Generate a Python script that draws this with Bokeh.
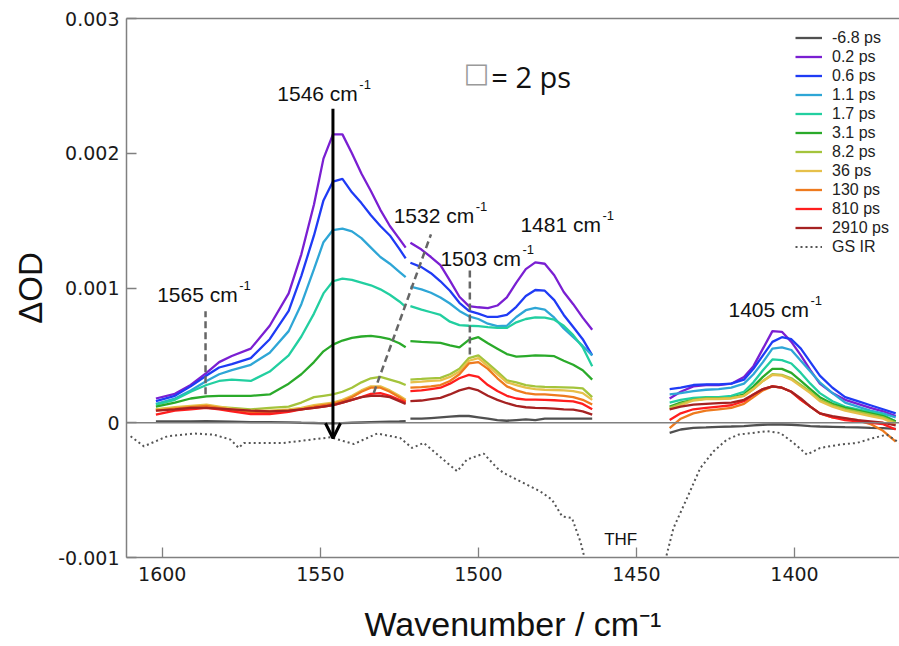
import numpy as np
from bokeh.plotting import figure
from bokeh.models import (Range1d, FixedTicker, CustomJSTickFormatter, Span, Arrow,
                          OpenHead, Label, Legend, LegendItem, LinearAxis)
from bokeh.embed import file_html
from bokeh.resources import INLINE

# Probe windows (wavenumber, cm^-1); the gaps between them are not measured
wn_a = [1602, 1596, 1591, 1586, 1582, 1578, 1572, 1566, 1560, 1556, 1552,
        1549, 1546, 1543, 1540, 1537, 1534, 1531, 1528, 1525, 1523]
wn_b = [1521.5, 1518, 1515, 1512, 1509, 1506, 1503, 1500, 1497, 1494,
        1491, 1488, 1485, 1482, 1479, 1476, 1473, 1470, 1467, 1464]
wn_c = [1439.5, 1436, 1432, 1428, 1424, 1420, 1416, 1413, 1410, 1407, 1404,
        1401, 1398, 1395, 1392, 1388, 1384, 1380, 1376, 1372, 1368]

delays = ["-6.8 ps", "0.2 ps", "0.6 ps", "1.1 ps", "1.7 ps", "3.1 ps",
          "8.2 ps", "36 ps", "130 ps", "810 ps", "2910 ps"]
colors = ["#505050", "#7A1FD2", "#1F3BF5", "#2EA6D6", "#22CFA0", "#2AAA2A",
          "#A4C43C", "#E6C04A", "#EE7A1E", "#FF1E1E", "#A52222"]

# Transient absorbance in mOD (1e-3 OD) for each window
d_a = [
    [0.01, 0.01, 0.01, 0.012, 0.01, 0.008, 0.005, 0.005, 0.003, 0.0, -0.002,
     -0.004, -0.005, -0.003, 0.0, 0.002, 0.004, 0.006, 0.008, 0.01, 0.012],
    [0.18, 0.215, 0.28, 0.37, 0.45, 0.495, 0.55, 0.72, 0.96, 1.25, 1.62,
     1.96, 2.14, 2.14, 2.0, 1.85, 1.72, 1.58, 1.46, 1.365, 1.30],
    [0.16, 0.20, 0.27, 0.35, 0.41, 0.435, 0.48, 0.62, 0.83, 1.09, 1.39,
     1.65, 1.79, 1.81, 1.71, 1.63, 1.54, 1.46, 1.39, 1.29, 1.22],
    [0.14, 0.18, 0.24, 0.31, 0.36, 0.39, 0.43, 0.52, 0.68, 0.88, 1.14,
     1.34, 1.43, 1.44, 1.42, 1.37, 1.30, 1.23, 1.18, 1.12, 1.08],
    [0.135, 0.17, 0.23, 0.28, 0.31, 0.32, 0.31, 0.38, 0.50, 0.64, 0.81,
     0.96, 1.05, 1.07, 1.06, 1.04, 1.02, 0.99, 0.95, 0.90, 0.86],
    [0.12, 0.15, 0.18, 0.195, 0.20, 0.20, 0.20, 0.21, 0.29, 0.36, 0.45,
     0.53, 0.58, 0.61, 0.63, 0.64, 0.645, 0.635, 0.62, 0.59, 0.56],
    [0.10, 0.11, 0.12, 0.12, 0.115, 0.11, 0.10, 0.11, 0.12, 0.15, 0.19,
     0.20, 0.21, 0.23, 0.26, 0.30, 0.33, 0.34, 0.32, 0.30, 0.28],
    [0.10, 0.115, 0.125, 0.135, 0.12, 0.105, 0.09, 0.09, 0.10, 0.11, 0.13,
     0.14, 0.15, 0.17, 0.20, 0.24, 0.27, 0.27, 0.24, 0.20, 0.17],
    [0.09, 0.105, 0.115, 0.125, 0.11, 0.095, 0.08, 0.08, 0.09, 0.10, 0.12,
     0.13, 0.14, 0.16, 0.19, 0.23, 0.26, 0.26, 0.23, 0.19, 0.16],
    [0.06, 0.09, 0.10, 0.11, 0.10, 0.085, 0.065, 0.065, 0.08, 0.10, 0.11,
     0.12, 0.13, 0.15, 0.17, 0.19, 0.215, 0.22, 0.20, 0.17, 0.15],
    [0.09, 0.10, 0.11, 0.11, 0.105, 0.10, 0.09, 0.085, 0.09, 0.10, 0.11,
     0.12, 0.13, 0.15, 0.17, 0.19, 0.20, 0.20, 0.19, 0.16, 0.14],
]
d_b = [
    [0.03, 0.03, 0.035, 0.04, 0.045, 0.05, 0.05, 0.04, 0.03, 0.02,
     0.015, 0.02, 0.025, 0.02, 0.03, 0.03, 0.03, 0.03, 0.03, 0.03],
    [1.336, 1.285, 1.23, 1.17, 1.055, 0.935, 0.866, 0.857, 0.85, 0.87,
     0.93, 1.04, 1.14, 1.19, 1.18, 1.095, 0.97, 0.88, 0.78, 0.69],
    [1.187, 1.155, 1.11, 1.05, 0.98, 0.89, 0.83, 0.81, 0.785, 0.785,
     0.80, 0.86, 0.94, 0.985, 0.98, 0.91, 0.80, 0.71, 0.62, 0.50],
    [1.01, 0.99, 0.965, 0.93, 0.885, 0.83, 0.79, 0.77, 0.735, 0.717,
     0.72, 0.785, 0.835, 0.852, 0.84, 0.78, 0.70, 0.635, 0.57, 0.50],
    [0.866, 0.84, 0.82, 0.80, 0.75, 0.725, 0.72, 0.717, 0.71, 0.704,
     0.704, 0.745, 0.77, 0.782, 0.78, 0.765, 0.72, 0.65, 0.56, 0.42],
    [0.606, 0.60, 0.597, 0.593, 0.575, 0.56, 0.615, 0.635, 0.59, 0.55,
     0.51, 0.49, 0.495, 0.50, 0.498, 0.494, 0.46, 0.43, 0.39, 0.32],
    [0.32, 0.325, 0.33, 0.333, 0.36, 0.40, 0.48, 0.50, 0.44, 0.38,
     0.315, 0.30, 0.28, 0.27, 0.266, 0.264, 0.262, 0.26, 0.255, 0.19],
    [0.30, 0.305, 0.31, 0.315, 0.34, 0.38, 0.46, 0.48, 0.42, 0.36,
     0.30, 0.28, 0.26, 0.25, 0.245, 0.243, 0.24, 0.235, 0.22, 0.17],
    [0.26, 0.265, 0.27, 0.28, 0.31, 0.36, 0.44, 0.45, 0.40, 0.33,
     0.27, 0.24, 0.22, 0.21, 0.21, 0.205, 0.20, 0.19, 0.17, 0.135],
    [0.234, 0.24, 0.25, 0.26, 0.29, 0.33, 0.355, 0.34, 0.28, 0.235,
     0.20, 0.18, 0.172, 0.172, 0.17, 0.167, 0.163, 0.158, 0.14, 0.10],
    [0.16, 0.165, 0.175, 0.185, 0.21, 0.24, 0.258, 0.24, 0.20, 0.17,
     0.145, 0.125, 0.115, 0.11, 0.108, 0.105, 0.10, 0.097, 0.085, 0.06],
]
d_c = [
    [-0.075, -0.05, -0.038, -0.035, -0.03, -0.028, -0.025, -0.02, -0.015, -0.012,
     -0.013, -0.015, -0.02, -0.025, -0.028, -0.03, -0.033, -0.035, -0.038, -0.04, -0.045],
    [0.18, 0.23, 0.27, 0.28, 0.28, 0.29, 0.34, 0.42, 0.55, 0.68, 0.675,
     0.60, 0.50, 0.39, 0.29, 0.22, 0.17, 0.14, 0.11, 0.085, 0.05],
    [0.25, 0.26, 0.28, 0.285, 0.285, 0.29, 0.32, 0.40, 0.50, 0.60, 0.635,
     0.62, 0.55, 0.45, 0.35, 0.26, 0.19, 0.16, 0.13, 0.10, 0.07],
    [0.21, 0.22, 0.235, 0.245, 0.25, 0.26, 0.29, 0.36, 0.45, 0.55, 0.56,
     0.54, 0.46, 0.38, 0.30, 0.22, 0.15, 0.12, 0.09, 0.07, 0.04],
    [0.15, 0.17, 0.185, 0.19, 0.19, 0.20, 0.23, 0.30, 0.39, 0.47, 0.465,
     0.44, 0.37, 0.29, 0.22, 0.16, 0.12, 0.10, 0.08, 0.06, 0.01],
    [0.12, 0.15, 0.17, 0.18, 0.18, 0.185, 0.21, 0.27, 0.34, 0.40, 0.40,
     0.37, 0.31, 0.25, 0.19, 0.14, 0.11, 0.09, 0.07, 0.05, 0.01],
    [0.11, 0.14, 0.17, 0.18, 0.18, 0.185, 0.20, 0.25, 0.31, 0.36, 0.355,
     0.33, 0.28, 0.23, 0.17, 0.13, 0.10, 0.08, 0.06, 0.04, 0.0],
    [0.10, 0.13, 0.165, 0.175, 0.175, 0.18, 0.20, 0.25, 0.31, 0.355, 0.35,
     0.32, 0.27, 0.22, 0.16, 0.12, 0.09, 0.07, 0.05, 0.03, -0.01],
    [-0.04, 0.03, 0.07, 0.09, 0.10, 0.11, 0.14, 0.19, 0.24, 0.27, 0.26,
     0.23, 0.17, 0.12, 0.07, 0.04, 0.03, 0.02, -0.01, -0.06, -0.14],
    [0.02, 0.07, 0.10, 0.11, 0.12, 0.13, 0.16, 0.21, 0.25, 0.27, 0.26,
     0.23, 0.17, 0.12, 0.07, 0.04, 0.02, 0.01, 0.0, -0.01, -0.05],
    [0.10, 0.12, 0.135, 0.14, 0.145, 0.15, 0.17, 0.21, 0.25, 0.27, 0.26,
     0.23, 0.18, 0.12, 0.07, 0.05, 0.035, 0.02, 0.01, 0.0, -0.02],
]

# Ground-state IR spectrum (scaled, negative), mOD
gs_wn = [1610, 1605.8, 1598.4, 1590, 1583.7, 1578.4, 1575.8, 1574.2, 1561.6,
         1546.8, 1539.4, 1532, 1524.7, 1521, 1517.3, 1506.7, 1503.6, 1498.3,
         1494.1, 1492, 1486.7, 1480.4, 1476.7, 1473.5, 1470.4, 1467.7, 1466.5,
         1463, 1455, 1446, 1440.6, 1438.3, 1434, 1429.8, 1425.6, 1421.4,
         1417.7, 1408.7, 1404.5, 1400.3, 1396.1, 1391.9, 1385.6, 1380.3,
         1375, 1370.8, 1367.6, 1366]
gs_od = [-0.10, -0.175, -0.10, -0.08, -0.088, -0.125, -0.187, -0.15, -0.15,
         -0.108, -0.158, -0.08, -0.113, -0.187, -0.15, -0.36, -0.273, -0.229,
         -0.336, -0.373, -0.435, -0.51, -0.571, -0.695, -0.707, -0.884, -0.995,
         -1.35, -2.0, -1.6, -0.995, -0.782, -0.559, -0.336, -0.212, -0.125,
         -0.088, -0.063, -0.076, -0.15, -0.236, -0.187, -0.162, -0.15,
         -0.113, -0.088, -0.137, -0.16]

MOD = 1e-3


def joined(a, b, c):
    gap = [np.nan]
    return np.concatenate([np.asarray(a, float), gap, np.asarray(b, float),
                           gap, np.asarray(c, float)])


x_all = joined(wn_a, wn_b, wn_c)

p = figure(width=899, height=646, output_backend="svg", toolbar_location=None,
           x_range=Range1d(1611.3, 1366.8), y_range=Range1d(-0.001, 0.003),
           min_border_left=126, min_border_right=0, min_border_top=18,
           min_border_bottom=89)
p.outline_line_color = None
p.xgrid.grid_line_color = None
p.ygrid.grid_line_color = None

ANN_FONT = "Liberation Sans"
INK = "#111111"
AX = "#808080"
for ax in (p.xaxis[0], p.yaxis[0]):
    ax.axis_line_color = AX
    ax.axis_line_width = 1.5
    ax.major_tick_line_color = AX
    ax.major_tick_line_width = 1.3
    ax.major_tick_in = 10
    ax.major_tick_out = 0
    ax.minor_tick_line_color = None
    ax.major_label_text_font = "DejaVu Sans"
    ax.major_label_text_font_size = "19px"
    ax.major_label_text_color = "#1a1a1a"
    ax.axis_label_text_font = ANN_FONT
    ax.axis_label_text_font_style = "normal"
    ax.axis_label_text_color = INK

p.xaxis[0].ticker = FixedTicker(ticks=[1600, 1550, 1500, 1450, 1400])
p.xaxis[0].major_label_standoff = 9
p.xaxis[0].axis_label = "Wavenumber / cm⁻¹"
p.xaxis[0].axis_label_text_font_size = "34px"
p.xaxis[0].axis_label_standoff = 21

p.yaxis[0].ticker = FixedTicker(ticks=[-0.001, 0, 0.001, 0.002, 0.003])
p.yaxis[0].formatter = CustomJSTickFormatter(
    code="return Math.abs(tick) < 1e-9 ? '0' : tick.toFixed(3);")
p.yaxis[0].major_label_standoff = 7
p.yaxis[0].axis_label = "ΔOD"
p.yaxis[0].axis_label_text_font_size = "33px"
p.yaxis[0].axis_label_standoff = 6

# frame line along the top
top_axis = LinearAxis(ticker=FixedTicker(ticks=[]), axis_line_color=AX,
                      axis_line_width=1.5, major_tick_line_color=None,
                      minor_tick_line_color=None)
p.add_layout(top_axis, "above")

p.add_layout(Span(location=0, dimension="width", line_color=AX, line_width=1.5))

items = []
for i, (lab, col) in enumerate(zip(delays, colors)):
    y = joined(d_a[i], d_b[i], d_c[i]) * MOD
    r = p.line(x_all, y, line_color=col, line_width=2.3)
    items.append(LegendItem(label=lab, renderers=[r]))

r_gs = p.line(gs_wn, np.asarray(gs_od) * MOD, line_color="#555555",
              line_width=2, line_dash="2 3")
items.append(LegendItem(label="GS IR", renderers=[r_gs]))

# guide lines for the band positions
DASH = dict(line_color="#666666", line_width=2.5, line_dash="7 4")
p.line([1586.3, 1586.3], [0.000212, 0.000828], **DASH)
p.line([1533.1, 1515.0], [0.000221, 0.001398], **DASH)
p.line([1502.7, 1502.7], [0.000507, 0.001138], **DASH)

p.add_layout(Arrow(end=OpenHead(size=15, line_width=3, line_color="black"),
                   x_start=1546, y_start=0.00233, x_end=1546, y_end=-0.000115,
                   line_width=3, line_color="black"))

LIFT = 7  # raise text so its baseline sits on the anchor

band_labels = [("1546 cm", 1563.6, 0.002389), ("1565 cm", 1601.6, 0.000903),
               ("1532 cm", 1526.8, 0.001484), ("1503 cm", 1512.0, 0.001170),
               ("1481 cm", 1486.7, 0.001418), ("1405 cm", 1420.9, 0.000791)]
for txt, bx, by in band_labels:
    p.add_layout(Label(x=bx, y=by, text=txt, text_font=ANN_FONT,
                       text_font_size="21px", text_color=INK,
                       text_baseline="alphabetic", text_align="left",
                       y_offset=LIFT))
    p.add_layout(Label(x=bx, y=by, text="-1", text_font=ANN_FONT,
                       text_font_size="13px", text_color=INK,
                       text_baseline="alphabetic", text_align="left",
                       x_offset=82, y_offset=LIFT + 9))

p.add_layout(Label(x=1460.2, y=-0.000918, text="THF", text_font=ANN_FONT,
                   text_font_size="17px", text_color=INK,
                   text_baseline="alphabetic", y_offset=LIFT))

p.add_layout(Label(x=1504.6, y=0.002485, text="□", text_font="DejaVu Sans",
                   text_font_size="27px", text_color="#9a9a9a",
                   text_baseline="alphabetic", y_offset=LIFT + 8))
p.add_layout(Label(x=1495.9, y=0.002485, text="= 2 ps", text_font="Open Sans",
                   text_font_size="29px", text_color=INK,
                   text_baseline="alphabetic", y_offset=LIFT + 4))

legend = Legend(items=items, location=(669, 301), padding=0, margin=0,
                spacing=0, glyph_width=27, glyph_height=19, label_height=19,
                label_standoff=10, label_text_font=ANN_FONT,
                label_text_font_size="16px", label_text_color="#222222",
                border_line_color=None, background_fill_alpha=0)
p.add_layout(legend)

open("out.html", "w").write(file_html(p, INLINE))
